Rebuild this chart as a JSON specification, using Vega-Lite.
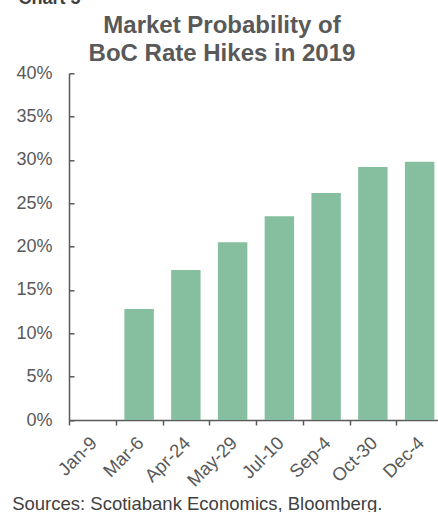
{
  "$schema": "https://vega.github.io/schema/vega-lite/v6.json",
  "autosize": "none",
  "width": 369,
  "height": 346.7,
  "padding": {"left": 69, "top": 73.3, "right": 0, "bottom": 92},
  "background": "white",
  "title": {
    "text": ["Market Probability of", "BoC Rate Hikes in 2019"],
    "font": "Liberation Sans",
    "fontSize": 24,
    "fontWeight": "bold",
    "color": "#595959",
    "lineHeight": 27.5,
    "anchor": "middle",
    "dx": -31.5,
    "dy": 84,
    "offset": 8
  },
  "data": {
    "values": [
      {"date": "Jan-9", "prob": 0},
      {"date": "Mar-6", "prob": 0.128},
      {"date": "Apr-24", "prob": 0.173},
      {"date": "May-29", "prob": 0.205},
      {"date": "Jul-10", "prob": 0.235},
      {"date": "Sep-4", "prob": 0.262},
      {"date": "Oct-30", "prob": 0.292},
      {"date": "Dec-4", "prob": 0.298}
    ]
  },
  "mark": {"type": "bar", "color": "#86BF9F", "clip": false},
  "encoding": {
    "x": {
      "field": "date",
      "type": "nominal",
      "sort": null,
      "scale": {"range": [0, 374], "paddingInner": 0.37, "paddingOuter": 0.185},
      "axis": {
        "title": "Sources: Scotiabank Economics, Bloomberg.",
        "titleFont": "Liberation Sans",
        "titleFontSize": 18.5,
        "titleFontWeight": "normal",
        "titleColor": "#404040",
        "titleX": -57.3,
        "titleY": 89,
        "titleAlign": "left",
        "titleBaseline": "alphabetic",
        "labelAngle": -45,
        "labelFont": "Liberation Sans",
        "labelFontSize": 18.5,
        "labelColor": "#595959",
        "labelPadding": 8,
        "labelOffset": 18,
        "tickOffset": -23.375,
        "tickSize": 5,
        "tickColor": "#595959",
        "tickWidth": 1.5,
        "domainColor": "#595959",
        "domainWidth": 1.5
      }
    },
    "y": {
      "field": "prob",
      "type": "quantitative",
      "scale": {"domain": [0, 0.4], "nice": false},
      "axis": {
        "values": [0, 0.05, 0.1, 0.15, 0.2, 0.25, 0.3, 0.35, 0.4],
        "format": ".0%",
        "grid": false,
        "title": "Chart 5",
        "titleAngle": 0,
        "titleX": -51,
        "titleY": -69.5,
        "titleAlign": "left",
        "titleBaseline": "alphabetic",
        "titleFont": "Liberation Sans",
        "titleFontSize": 18,
        "titleFontWeight": "bold",
        "titleColor": "#404040",
        "labelFont": "Liberation Sans",
        "labelFontSize": 18,
        "labelColor": "#595959",
        "labelPadding": 22,
        "tickSize": -5,
        "tickColor": "#595959",
        "tickWidth": 1.5,
        "domainColor": "#595959",
        "domainWidth": 1.5
      }
    }
  },
  "config": {"view": {"stroke": null}}
}
